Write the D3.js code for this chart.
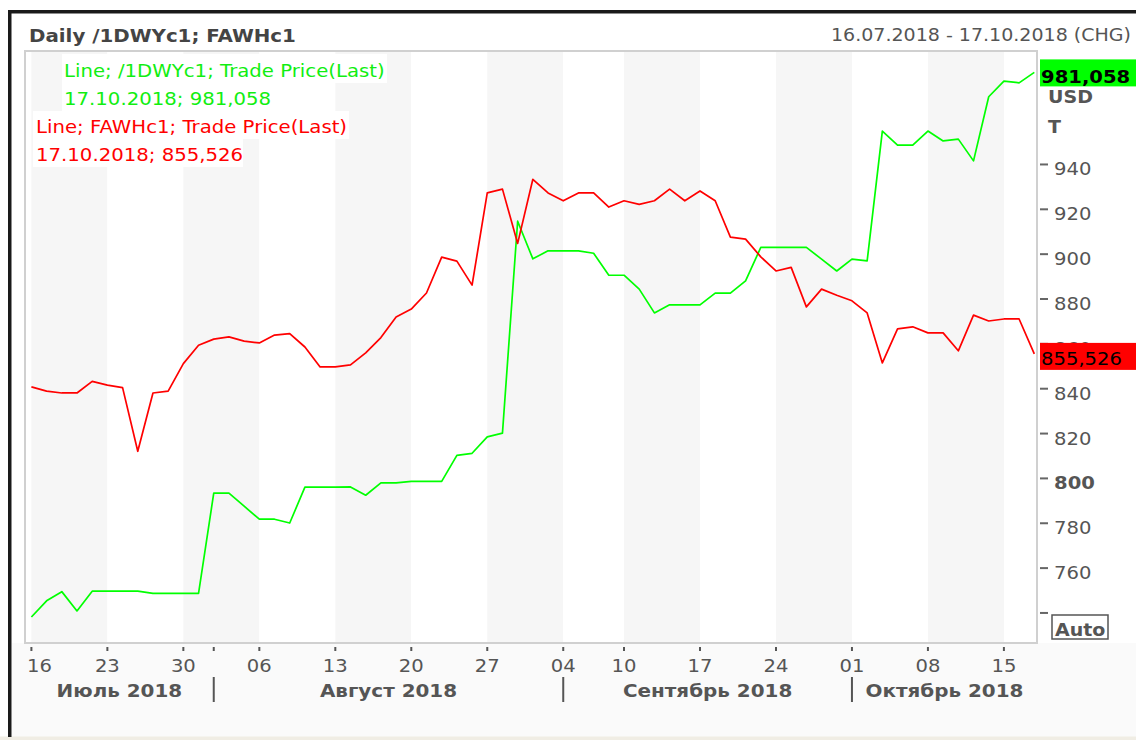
<!DOCTYPE html>
<html>
<head>
<meta charset="utf-8">
<script src="https://cdn.jsdelivr.net/npm/d3@7"></script>
<style>
  body { margin: 0; background: #fff; }
  text { font-family: "DejaVu Sans", Verdana, sans-serif; }
</style>
</head>
<body>
<div class="chart"></div>
<script>
// trading days shown on the chart (Sep 3 is a holiday)
var dates = [
  "2018-07-16","2018-07-17","2018-07-18","2018-07-19","2018-07-20",
  "2018-07-23","2018-07-24","2018-07-25","2018-07-26","2018-07-27",
  "2018-07-30","2018-07-31","2018-08-01","2018-08-02","2018-08-03",
  "2018-08-06","2018-08-07","2018-08-08","2018-08-09","2018-08-10",
  "2018-08-13","2018-08-14","2018-08-15","2018-08-16","2018-08-17",
  "2018-08-20","2018-08-21","2018-08-22","2018-08-23","2018-08-24",
  "2018-08-27","2018-08-28","2018-08-29","2018-08-30","2018-08-31",
  "2018-09-04","2018-09-05","2018-09-06","2018-09-07",
  "2018-09-10","2018-09-11","2018-09-12","2018-09-13","2018-09-14",
  "2018-09-17","2018-09-18","2018-09-19","2018-09-20","2018-09-21",
  "2018-09-24","2018-09-25","2018-09-26","2018-09-27","2018-09-28",
  "2018-10-01","2018-10-02","2018-10-03","2018-10-04","2018-10-05",
  "2018-10-08","2018-10-09","2018-10-10","2018-10-11","2018-10-12",
  "2018-10-15","2018-10-16","2018-10-17"
];

// /1DWYc1 (green)
var greenValues = [
  738.2, 745.4, 749.5, 740.9, 749.7,
  749.7, 749.7, 749.7, 748.7, 748.7,
  748.7, 748.7, 793.4, 793.4, 787.6,
  781.8, 781.8, 780.1, 796.1, 796.1,
  796.1, 796.2, 792.5, 798.0, 798.0,
  798.7, 798.7, 798.7, 810.3, 811.2,
  818.5, 820.2, 914.7, 897.9, 901.5,
  901.5, 901.5, 900.4, 890.6,
  890.6, 884.4, 873.8, 877.4, 877.4,
  877.4, 882.6, 882.6, 888.1, 903.0,
  903.0, 903.0, 903.0, 897.8, 892.5,
  897.8, 897.0, 954.9, 948.6, 948.6,
  954.9, 950.5, 951.3, 941.6, 970.2,
  977.2, 976.4, 981.058
];

// FAWHc1 (red)
var redValues = [
  840.8, 838.9, 838.1, 838.1, 843.3,
  841.6, 840.5, 812.1, 838.1, 838.9,
  851.2, 859.4, 862.1, 863.1, 861.2,
  860.4, 863.9, 864.6, 858.6, 849.7,
  849.7, 850.6, 856.0, 862.8, 872.0,
  875.5, 882.7, 898.7, 896.9, 886.2,
  927.3, 929.0, 904.8, 933.4, 927.3,
  923.8, 927.3, 927.3, 921.0,
  923.8, 922.2, 923.8, 929.0, 923.8,
  928.2, 923.8, 907.6, 906.7, 898.8,
  892.5, 894.1, 876.5, 884.4, 881.7,
  879.2, 873.8, 851.5, 866.7, 867.6,
  864.9, 864.9, 856.9, 872.8, 870.2,
  871.1, 871.1, 855.526
];

var yTicks = [740, 760, 780, 800, 820, 840, 860, 880, 900, 920, 940];
var weekStarts = ["2018-07-16","2018-07-23","2018-07-30","2018-08-06","2018-08-13",
  "2018-08-20","2018-08-27","2018-09-04","2018-09-10","2018-09-17","2018-09-24",
  "2018-10-01","2018-10-08","2018-10-15"];
var monthStarts = ["2018-08-01","2018-09-04","2018-10-01"];
var monthLabels = ["Июль 2018","Август 2018","Сентябрь 2018","Октябрь 2018"];

var svgWidth = 1136;
var svgHeight = 740;
var plot = {left: 25, top: 51, right: 1037, bottom: 643};
var K = 1.12; // the source fonts are wider than DejaVu

var svg = d3.select(".chart").append("svg")
  .attr("width", svgWidth)
  .attr("height", svgHeight)
  .style("display", "block");

// text helper, stretched horizontally
function txt(g, x, y, s, size, opts) {
  opts = opts || {};
  return g.append("text")
    .attr("transform", `translate(${x},${y}) scale(${K},1)`)
    .attr("font-size", size)
    .attr("font-weight", opts.bold ? "bold" : null)
    .attr("fill", opts.fill || "#555")
    .attr("text-anchor", opts.anchor || "start")
    .text(s);
}

// frame
svg.append("rect").attr("x", 12).attr("y", 13).attr("width", svgWidth - 12).attr("height", svgHeight - 16).attr("fill", "#fff");
svg.append("rect").attr("x", 12).attr("y", plot.bottom).attr("width", svgWidth - 12).attr("height", svgHeight - plot.bottom - 3).attr("fill", "#fafafa");
svg.append("rect").attr("x", 0).attr("y", svgHeight - 3.5).attr("width", svgWidth).attr("height", 3.5).attr("fill", "#f0ede4");
svg.append("rect").attr("x", 8).attr("y", 10).attr("width", svgWidth - 8).attr("height", 3.5).attr("fill", "#1a1a1a");
svg.append("rect").attr("x", 8).attr("y", 10).attr("width", 3.5).attr("height", svgHeight - 13).attr("fill", "#1a1a1a");

// scales
var x = d3.scalePoint().domain(dates).range([31.4, 1034.3]);
var y = d3.scaleLinear().domain([726.6, 990.6]).range([plot.bottom, plot.top]);

// weekly bands
var bands = svg.append("g");
for (var k = 0; k < weekStarts.length; k++) {
  var x0 = x(weekStarts[k]);
  var x1 = k + 1 < weekStarts.length ? x(weekStarts[k + 1]) : plot.right;
  bands.append("rect")
    .attr("x", x0).attr("y", plot.top)
    .attr("width", x1 - x0).attr("height", plot.bottom - plot.top)
    .attr("fill", k % 2 === 0 ? "#f6f6f6" : "#fff");
}

// plot border
svg.append("rect")
  .attr("x", plot.left).attr("y", plot.top)
  .attr("width", plot.right - plot.left).attr("height", plot.bottom - plot.top)
  .attr("fill", "none").attr("stroke", "#d0d0d0").attr("stroke-width", 2);

// legend
var legend = svg.append("g");
legend.append("rect").attr("x", 62).attr("y", 54).attr("width", 325).attr("height", 29).attr("fill", "#fff");
legend.append("rect").attr("x", 62).attr("y", 83).attr("width", 210).attr("height", 28).attr("fill", "#fff");
legend.append("rect").attr("x", 33).attr("y", 111).attr("width", 316).attr("height", 28).attr("fill", "#fff");
legend.append("rect").attr("x", 33).attr("y", 139).attr("width", 210).attr("height", 28).attr("fill", "#fff");
txt(legend, 64, 77, "Line; /1DWYc1; Trade Price(Last)", 17.6, {fill: "#11ee11"});
txt(legend, 64, 104.5, "17.10.2018; 981,058", 17.6, {fill: "#11ee11"});
txt(legend, 36, 132.5, "Line; FAWHc1; Trade Price(Last)", 17.6, {fill: "#ff0000"});
txt(legend, 36, 160.5, "17.10.2018; 855,526", 17.6, {fill: "#ff0000"});

// lines
var line = d3.line().x((d, i) => x(dates[i])).y(d => y(d));
svg.append("path").datum(greenValues)
  .attr("d", line).attr("fill", "none")
  .attr("stroke", "#00ff00").attr("stroke-width", 1.7).attr("stroke-linejoin", "round");
svg.append("path").datum(redValues)
  .attr("d", line).attr("fill", "none")
  .attr("stroke", "#ff0000").attr("stroke-width", 1.7).attr("stroke-linejoin", "round");

// header
txt(svg, 29, 41.5, "Daily /1DWYc1; FAWHc1", 17.7, {bold: true, fill: "#444"});
txt(svg, 1131, 41, "16.07.2018 - 17.10.2018 (CHG)", 17, {anchor: "end"});

// y axis (right)
var yAxisG = svg.append("g");
yTicks.forEach(function(t) {
  yAxisG.append("line")
    .attr("x1", 1040).attr("x2", 1048)
    .attr("y1", y(t)).attr("y2", y(t))
    .attr("stroke", "#666").attr("stroke-width", 2);
  if (t !== 740) {
    txt(yAxisG, 1054, y(t) + 11, t, 17.5, {bold: t === 800});
  }
});
txt(yAxisG, 1048, 102.5, "USD", 17, {bold: true});
txt(yAxisG, 1048, 132.5, "T", 17, {bold: true});

// last value boxes
var lastG = greenValues[greenValues.length - 1];
var lastR = redValues[redValues.length - 1];
svg.append("rect").attr("x", 1040).attr("y", y(lastG) - 13).attr("width", 96).attr("height", 27).attr("fill", "#00ff00");
txt(svg, 1041, y(lastG) + 10.5, d3.format(".3f")(lastG).replace(".", ","), 17.5, {bold: true, fill: "#000"});
svg.append("rect").attr("x", 1040).attr("y", y(lastR) - 11).attr("width", 96).attr("height", 27).attr("fill", "#ff0000");
txt(svg, 1041, y(lastR) + 11.5, d3.format(".3f")(lastR).replace(".", ","), 17.5, {fill: "#000"});

// Auto button
svg.append("rect").attr("x", 1052).attr("y", 615).attr("width", 56).attr("height", 24)
  .attr("fill", "none").attr("stroke", "#555").attr("stroke-width", 1.5);
txt(svg, 1055, 636, "Auto", 17, {bold: true});

// x axis (bottom)
var parse = d3.timeParse("%Y-%m-%d");
var xAxisG = svg.append("g");
weekStarts.concat(["2018-08-01"]).forEach(function(d) {
  xAxisG.append("line")
    .attr("x1", x(d)).attr("x2", x(d))
    .attr("y1", 647).attr("y2", 651)
    .attr("stroke", "#555").attr("stroke-width", 2);
});
weekStarts.forEach(function(d) {
  var lab = txt(xAxisG, x(d), 671.5, d3.timeFormat("%d")(parse(d)), 17.5, {anchor: "middle"});
  var w = lab.node().getComputedTextLength() * K;
  if (x(d) - w / 2 < 27) {
    lab.attr("transform", `translate(${27 + w / 2},671.5) scale(${K},1)`);
  }
});
var edges = [plot.left].concat(monthStarts.map(d => x(d))).concat([plot.right]);
monthStarts.forEach(function(d) {
  xAxisG.append("line")
    .attr("x1", x(d)).attr("x2", x(d))
    .attr("y1", 677).attr("y2", 702)
    .attr("stroke", "#555").attr("stroke-width", 2);
});
monthLabels.forEach(function(m, i) {
  txt(xAxisG, (edges[i] + edges[i + 1]) / 2, 697, m, 17.8, {bold: true, anchor: "middle"});
});
</script>
</body>
</html>
